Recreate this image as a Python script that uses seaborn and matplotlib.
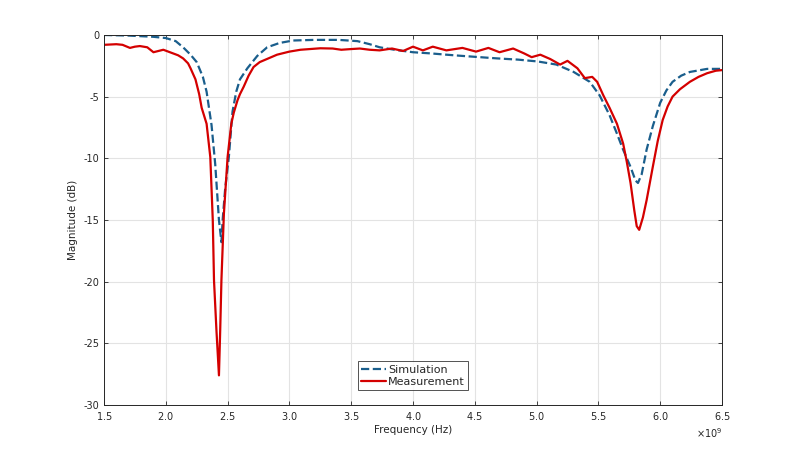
import numpy as np
import pandas as pd
import seaborn as sns
import matplotlib
matplotlib.use("Agg")
import matplotlib.pyplot as plt
from matplotlib.ticker import ScalarFormatter

# frequency in GHz, magnitude in dB
sim_freq = [1.5, 1.7, 1.9, 2.0, 2.08, 2.14, 2.2, 2.25, 2.30, 2.33, 2.37, 2.40, 2.43, 2.45,
            2.46, 2.48, 2.51, 2.54, 2.57, 2.60, 2.66, 2.74, 2.82, 2.92, 3.03, 3.2, 3.4,
            3.55, 3.65, 3.73, 3.85, 4.0, 4.15, 4.27, 4.4, 4.54, 4.68, 4.85, 5.01, 5.16,
            5.30, 5.43, 5.51, 5.59, 5.65, 5.70, 5.76, 5.80, 5.82, 5.85, 5.89, 5.94, 6.0,
            6.05, 6.10, 6.17, 6.24, 6.38, 6.5]
sim_db = [0.0, -0.05, -0.15, -0.25, -0.5, -1.0, -1.6, -2.2, -3.4, -4.6, -7.3, -10.5, -15.0, -16.8,
          -15.0, -12.5, -9.9, -6.2, -4.6, -3.6, -2.7, -1.7, -1.0, -0.65, -0.45, -0.4, -0.4,
          -0.5, -0.75, -1.0, -1.2, -1.4, -1.5, -1.6, -1.7, -1.8, -1.9, -2.0, -2.15, -2.4,
          -3.0, -3.8, -4.9, -6.5, -8.0, -9.3, -10.7, -11.8, -12.0, -11.3, -9.3, -7.4, -5.5,
          -4.5, -3.8, -3.3, -3.0, -2.75, -2.75]

meas_freq = [1.5, 1.6, 1.65, 1.71, 1.75, 1.79, 1.85, 1.90, 1.94, 1.98, 2.02, 2.06, 2.10, 2.14,
             2.18, 2.20, 2.24, 2.27, 2.29, 2.33, 2.36, 2.38, 2.39, 2.41, 2.43, 2.44, 2.45,
             2.47, 2.50, 2.53, 2.55, 2.58, 2.60, 2.63, 2.67, 2.71, 2.76, 2.83, 2.90, 3.0,
             3.09, 3.25, 3.35, 3.42, 3.49, 3.57, 3.65, 3.73, 3.83, 3.92, 4.0, 4.08, 4.16,
             4.27, 4.40, 4.51, 4.61, 4.70, 4.81, 4.90, 4.96, 5.03, 5.11, 5.19, 5.25, 5.33,
             5.39, 5.45, 5.49, 5.54, 5.59, 5.65, 5.70, 5.73, 5.76, 5.79, 5.81, 5.83, 5.86,
             5.89, 5.94, 5.98, 6.02, 6.06, 6.10, 6.16, 6.24, 6.31, 6.38, 6.45, 6.5]
meas_db = [-0.8, -0.75, -0.8, -1.05, -0.95, -0.9, -1.0, -1.4, -1.3, -1.2, -1.35, -1.5, -1.65, -1.9,
           -2.3, -2.7, -3.6, -4.8, -5.9, -7.2, -9.9, -15.0, -19.9, -24.0, -27.6, -24.0, -19.9,
           -14.5, -9.9, -7.2, -6.3, -5.3, -4.8, -4.2, -3.3, -2.6, -2.2, -1.9, -1.6, -1.35,
           -1.2, -1.08, -1.1, -1.2, -1.15, -1.1, -1.2, -1.25, -1.1, -1.3, -0.95, -1.25, -0.95,
           -1.25, -1.05, -1.35, -1.05, -1.4, -1.1, -1.5, -1.8, -1.6, -1.95, -2.4, -2.1, -2.7,
           -3.5, -3.4, -3.8, -4.9, -5.9, -7.2, -8.8, -10.3, -12.0, -14.2, -15.5, -15.8, -14.8,
           -13.4, -10.7, -8.6, -6.9, -5.8, -5.0, -4.4, -3.8, -3.4, -3.1, -2.9, -2.85]

sim = pd.DataFrame({"f": np.array(sim_freq) * 1e9, "db": sim_db})
meas = pd.DataFrame({"f": np.array(meas_freq) * 1e9, "db": meas_db})

sns.set_style("whitegrid", {"grid.color": "#e3e3e3", "axes.edgecolor": "#262626"})
plt.rcParams["font.family"] = ["DejaVu Sans"]
plt.rcParams["axes.unicode_minus"] = False

fig = plt.figure(figsize=(8, 4.54), dpi=100)
ax = fig.add_axes([0.13, 0.108, 0.7725, 0.815])

sns.lineplot(data=sim, x="f", y="db", ax=ax, color="#1a5e8c", linestyle="--",
             linewidth=1.6, label="Simulation")
sns.lineplot(data=meas, x="f", y="db", ax=ax, color="#d40000", linewidth=1.6,
             label="Measurement")

ax.set_xlim(1.5e9, 6.5e9)
ax.set_ylim(-30, 0)
ax.set_xticks(np.arange(1.5e9, 6.51e9, 0.5e9))
ax.set_yticks(np.arange(-30, 1, 5))
fmt = ScalarFormatter(useMathText=True)
fmt.set_powerlimits((0, 0))
ax.xaxis.set_major_formatter(fmt)
ax.xaxis.get_offset_text().set_fontsize(7)
ax.xaxis.get_offset_text().set_color("#444444")

ax.tick_params(axis="both", labelsize=7, colors="#262626", direction="in", length=3,
               top=True, right=True, bottom=True, left=True, width=0.6)
ax.set_xlabel("Frequency (Hz)", fontsize=7.5, labelpad=2)
ax.set_ylabel("Magnitude (dB)", fontsize=7.5, labelpad=4)
for s in ax.spines.values():
    s.set_linewidth(0.7)

leg = ax.legend(loc="lower center", bbox_to_anchor=(0.5, 0.04), fontsize=8,
                frameon=True, fancybox=False, handlelength=2.2, handletextpad=0.2,
                borderpad=0.3, labelspacing=0.2, borderaxespad=0)
leg.get_frame().set_edgecolor("#262626")
leg.get_frame().set_linewidth(0.7)

fig.savefig("out.png", dpi=100)
